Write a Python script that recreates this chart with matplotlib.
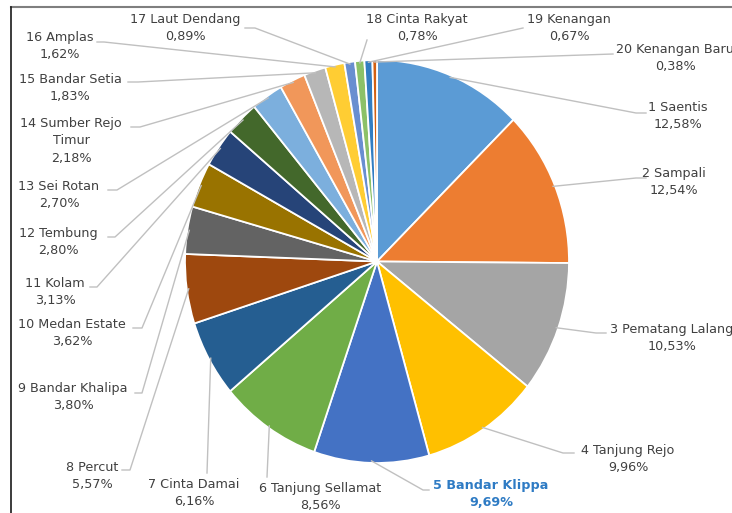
#!/usr/bin/env python3
"""Pie chart of share per village (Kecamatan Percut Sei Tuan), Excel-like style."""
import matplotlib

matplotlib.use("Agg")
import matplotlib.pyplot as plt
import numpy as np
from matplotlib.lines import Line2D

plt.rcParams["font.family"] = ["DejaVu Sans"]

W, H = 732, 513

# data
names = [
    "1 Saentis", "2 Sampali", "3 Pematang Lalang", "4 Tanjung Rejo",
    "5 Bandar Klippa", "6 Tanjung Sellamat", "7 Cinta Damai", "8 Percut",
    "9 Bandar Khalipa", "10 Medan Estate", "11 Kolam", "12 Tembung",
    "13 Sei Rotan", "14 Sumber Rejo\nTimur", "15 Bandar Setia", "16 Amplas",
    "17 Laut Dendang", "18 Cinta Rakyat", "19 Kenangan", "20 Kenangan Baru",
]
shares = [
    12.58, 12.54, 10.53, 9.96, 9.69, 8.56, 6.16, 5.57, 3.80, 3.62,
    3.13, 2.80, 2.70, 2.18, 1.83, 1.62, 0.89, 0.78, 0.67, 0.38,
]
colors = [
    "#5B9BD5", "#ED7D31", "#A5A5A5", "#FFC000", "#4472C4", "#70AD47",
    "#255E91", "#9E480E", "#636363", "#997300", "#264478", "#43682B",
    "#7CAFDD", "#F1975A", "#B7B7B7", "#FFCD33", "#698ED0", "#8CC168",
    "#327DC2", "#D26012",
]

# layout (pixel coords): label centre, elbow, stub end
label_xy = [
    (678, 116), (674, 182), (672, 338), (628, 459), (491, 494),
    (320, 497), (194, 493), (92, 476), (73, 397), (72, 333),
    (55, 292), (58, 242), (59, 195), (71, 141), (70, 88),
    (60, 46), (185, 28), (417, 28), (569, 28), (675, 58),
]
elbow_xy = [
    (636, 113), (636, 178), (596, 333), (563, 453), (423, 490),
    (267, 477), (207, 473), (130, 470), (142, 393), (142, 328),
    (97, 287), (115, 237), (117, 190), (140, 127), (138, 82),
    (104, 42), (255, 28), (367, 40), (523, 28), (613, 54),
]
stub_xy = [
    (646, 113), (646, 178), (606, 333), (574, 453), (429, 490),
    (267, 477), (207, 473), (122, 470), (135, 393), (133, 328),
    (90, 287), (108, 237), (108, 190), (131, 127), (128, 82),
    (97, 42), (245, 28), (367, 40), (523, 28), (613, 54),
]

CX, CY, RX, RY = 377, 261.5, 192, 201.5


def px(x, y):
    return (x - CX) / RX, (CY - y) / RY


fig = plt.figure(figsize=(W / 100, H / 100), dpi=100)
ax = fig.add_axes([0, 0, 1, 1])
ax.axis("off")

wedges, _ = ax.pie(
    shares,
    colors=colors,
    startangle=90,
    counterclock=False,
    radius=1,
    center=(0, 0),
    wedgeprops=dict(edgecolor="white", linewidth=1.3),
)
ax.set_aspect("auto")
ax.set_xlim(px(0, 0)[0], px(W, 0)[0])
ax.set_ylim(px(0, H)[1], px(0, 0)[1])

text_col = "#404040"
line_col = "#C0C0C0"

for i, w in enumerate(wedges):
    mid = np.deg2rad((w.theta1 + w.theta2) / 2)
    a = (0.99 * np.cos(mid), 0.99 * np.sin(mid))
    e = px(*elbow_xy[i])
    s = px(*stub_xy[i])
    ax.plot([a[0], e[0], s[0]], [a[1], e[1], s[1]], color=line_col, lw=1.0, zorder=1)

    lab = f"{names[i]}\n{shares[i]:.2f}%".replace(".", ",")
    tx, ty = px(*label_xy[i])
    bold = i == 4
    ax.text(
        tx, ty, lab,
        ha="center", va="center",
        fontsize=9.2,
        color="#2E7BC4" if bold else text_col,
        fontweight="bold" if bold else "normal",
        linespacing=1.45,
    )

# chart frame (top and left edges visible)
fig.add_artist(Line2D([11 / W, 1], [1 - 7 / H, 1 - 7 / H], transform=fig.transFigure, color="#7F7F7F", lw=1.5))
fig.add_artist(Line2D([11 / W, 11 / W], [0, 1 - 7 / H], transform=fig.transFigure, color="#1A1A1A", lw=1.2))

fig.savefig("out.png", dpi=100, facecolor="white")
